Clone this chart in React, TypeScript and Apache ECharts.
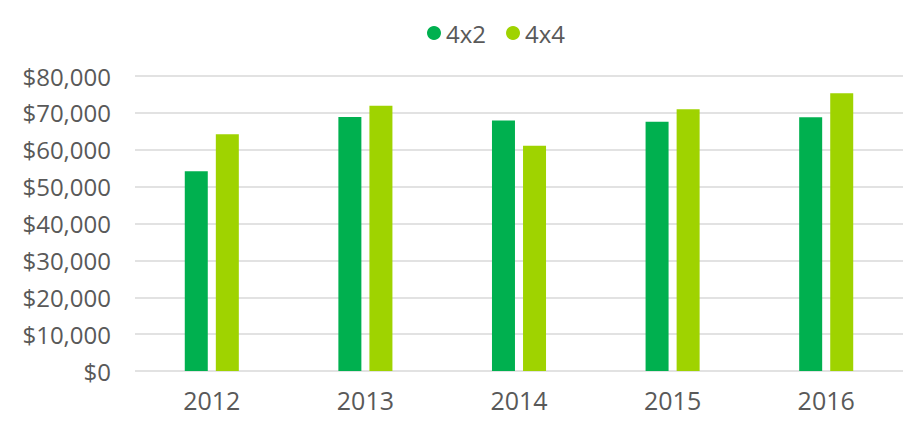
import * as echarts from 'echarts';
import { useEffect, useRef } from 'react';

const years = ['2012', '2013', '2014', '2015', '2016'];
const values4x2 = [54200, 68900, 67900, 67600, 68800];
const values4x4 = [64200, 71900, 61100, 71000, 75300];

const font = '"Open Sans", "Noto Sans", sans-serif';

export default function App() {
  const chartRef = useRef<HTMLDivElement>(null);

  useEffect(() => {
    if (!chartRef.current) return;
    const chart = echarts.init(chartRef.current, undefined, { renderer: 'svg' });

    chart.setOption({
      animation: false,
      textStyle: { fontFamily: font },
      legend: {
        top: 8,
        left: 414,
        icon: 'circle',
        itemWidth: 14,
        itemHeight: 14,
        itemGap: 20,
        textStyle: { fontSize: 24, color: '#595959', fontFamily: font },
        data: ['4x2', '4x4'],
      },
      // div sits inside the body's 8px margin
      grid: { top: 68, right: 9, bottom: 55, left: 127 },
      xAxis: {
        type: 'category',
        data: years,
        axisLine: { show: false },
        axisTick: { show: false },
        axisLabel: { fontSize: 25, color: '#595959', margin: 16 },
      },
      yAxis: {
        type: 'value',
        min: 0,
        max: 80000,
        interval: 10000,
        axisLabel: {
          fontSize: 24,
          color: '#595959',
          margin: 24,
          formatter: (v: number) => '$' + v.toLocaleString('en-US'),
        },
        splitLine: { lineStyle: { color: '#d9d9d9', width: 1.5 } },
      },
      series: [
        {
          name: '4x2',
          type: 'bar',
          data: values4x2,
          barWidth: 23,
          barGap: '35%',
          itemStyle: { color: '#00b04f' },
        },
        {
          name: '4x4',
          type: 'bar',
          data: values4x4,
          barWidth: 23,
          barGap: '35%',
          itemStyle: { color: '#9fd300' },
        },
      ],
    });

    return () => chart.dispose();
  }, []);

  return <div ref={chartRef} style={{ width: 904, height: 418 }} />;
}
